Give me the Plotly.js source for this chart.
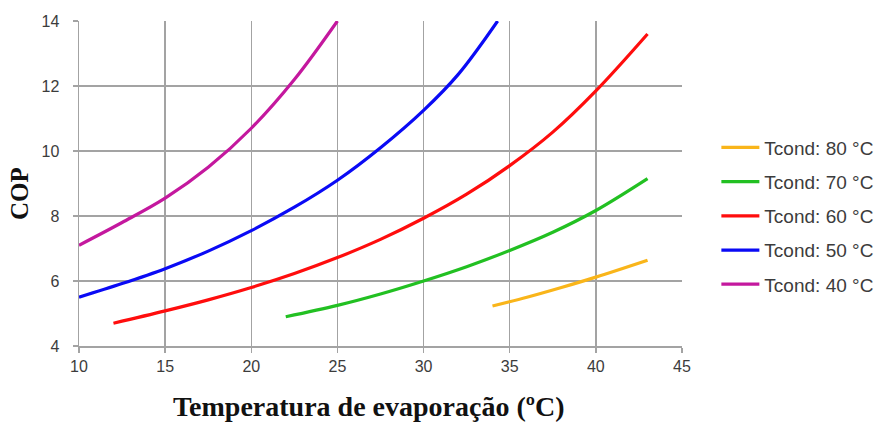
<!DOCTYPE html>
<html>
<head>
<meta charset="utf-8">
<script src="https://cdn.plot.ly/plotly-3.0.1.min.js"></script>
<style>html,body{margin:0;padding:0;background:#fff;}#chart{width:888px;height:423px;}</style>
</head>
<body>
<div id="chart"></div>
<script>
// Tcond 80 °C
const te80 = [34, 36, 38, 40, 43];
const cop80 = [5.23, 5.5, 5.8, 6.12, 6.64];
// Tcond 70 °C
const te70 = [22, 25, 27.5, 30, 32.5, 35, 37.5, 40, 43];
const cop70 = [4.9, 5.25, 5.6, 6.0, 6.44, 6.94, 7.5, 8.17, 9.15];
// Tcond 60 °C
const te60 = [12, 15, 17.5, 20, 22.5, 25, 27.5, 30, 32.5, 35, 37.5, 40, 43];
const cop60 = [4.7, 5.08, 5.42, 5.8, 6.23, 6.72, 7.28, 7.93, 8.67, 9.55, 10.58, 11.85, 13.6];
// Tcond 50 °C
const te50 = [10, 12.5, 15, 17.5, 20, 22.5, 25, 27.5, 30, 32, 34.3];
const cop50 = [5.5, 5.92, 6.38, 6.92, 7.55, 8.27, 9.1, 10.1, 11.25, 12.35, 14.0];
// Tcond 40 °C
const te40 = [10, 12.5, 15, 17.5, 20, 22.5, 25];
const cop40 = [7.1, 7.8, 8.55, 9.5, 10.7, 12.2, 14.0];

const seriesNames = ['Tcond: 80 °C', 'Tcond: 70 °C', 'Tcond: 60 °C', 'Tcond: 50 °C', 'Tcond: 40 °C'];
const xTicks = [10, 15, 20, 25, 30, 35, 40, 45];
const yTicks = [4, 6, 8, 10, 12, 14];
const xTitle = 'Temperatura de evaporação (ºC)';
const yTitle = 'COP';

const colors = ['#F9B51A', '#22C022', '#FF0D0D', '#0A0AF5', '#C4189E'];
const xs = [te80, te70, te60, te50, te40];
const ys = [cop80, cop70, cop60, cop50, cop40];

const traces = xs.map((x, i) => ({
  x: x, y: ys[i], type: 'scatter', mode: 'lines', name: seriesNames[i],
  legendgroup: 'g' + i,
  line: {color: colors[i], width: 3.2, shape: 'spline', smoothing: 1},
  hoverinfo: 'skip'
}));

const tickFont = {family: 'Liberation Sans, Arial, sans-serif', size: 16, color: '#3c3c3c'};
const gridCol = '#a3a3a3';

const layout = {
  width: 888, height: 423,
  margin: {l: 79, r: 206, t: 21, b: 77, pad: 0, autoexpand: false},
  paper_bgcolor: '#ffffff', plot_bgcolor: '#ffffff',
  showlegend: true,
  legend: {
    x: 1.057, xanchor: 'left', y: 0.669, yanchor: 'top',
    font: {family: 'Liberation Sans, Arial, sans-serif', size: 19, color: '#3c3c3c'},
    traceorder: 'grouped', tracegroupgap: 6.5, itemwidth: 38,
    bgcolor: 'rgba(0,0,0,0)'
  },
  xaxis: {
    range: [10, 45], tickvals: xTicks, ticktext: xTicks.map(String),
    showgrid: true, gridcolor: gridCol, gridwidth: 1.5,
    zeroline: false, showline: true, linecolor: gridCol, linewidth: 1.5, mirror: false,
    ticks: 'outside', ticklen: 5, tickcolor: gridCol, tickwidth: 1.5,
    tickfont: tickFont, fixedrange: true
  },
  yaxis: {
    range: [4, 14], tickvals: yTicks, ticktext: yTicks.map(String),
    showgrid: true, gridcolor: gridCol, gridwidth: 1.5,
    zeroline: false, showline: true, linecolor: gridCol, linewidth: 1.5,
    ticks: 'outside', ticklen: 5, tickcolor: gridCol, tickwidth: 1.5,
    ticklabelstandoff: 10,
    tickfont: tickFont, fixedrange: true
  },
  annotations: [
    {text: '<b>' + xTitle + '</b>', xref: 'paper', yref: 'paper', x: (369 - 79) / 602.7, y: -(407 - 346) / 325,
     xanchor: 'center', yanchor: 'middle', showarrow: false,
     font: {family: 'Liberation Serif, Times New Roman, serif', size: 28, color: '#111'}},
    {text: '<b>' + yTitle + '</b>', xref: 'paper', yref: 'paper', x: -(79 - 20) / 602.7, y: (346 - 193) / 325,
     xanchor: 'center', yanchor: 'middle', showarrow: false, textangle: -90,
     font: {family: 'Liberation Serif, Times New Roman, serif', size: 25, color: '#111'}}
  ]
};

Plotly.newPlot('chart', traces, layout, {displayModeBar: false, staticPlot: true});
</script>
</body>
</html>
